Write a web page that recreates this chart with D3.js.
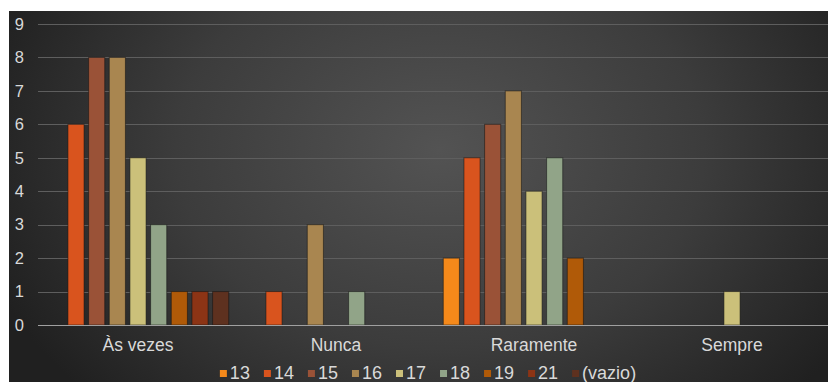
<!DOCTYPE html>
<html>
<head>
<meta charset="utf-8">
<script src="https://cdn.jsdelivr.net/npm/d3@7/dist/d3.min.js"></script>
<style>
  html, body { margin: 0; padding: 0; background: #ffffff; }
  svg { display: block; }
  text { font-family: "Liberation Sans", Arial, sans-serif; }
</style>
</head>
<body>
<svg id="chart" width="828" height="382"></svg>
<script>
const categories = ["Às vezes", "Nunca", "Raramente", "Sempre"];
const seriesNames = ["13", "14", "15", "16", "17", "18", "19", "21", "(vazio)"];
// values per series, in category order
const s13    = [0, 0, 2, 0];
const s14    = [6, 1, 5, 0];
const s15    = [8, 0, 6, 0];
const s16    = [8, 3, 7, 0];
const s17    = [5, 0, 4, 1];
const s18    = [3, 1, 5, 0];
const s19    = [1, 0, 2, 0];
const s21    = [1, 0, 0, 0];
const sVazio = [1, 0, 0, 0];
const seriesValues = [s13, s14, s15, s16, s17, s18, s19, s21, sVazio];
const yTicks = [0, 1, 2, 3, 4, 5, 6, 7, 8, 9];
const colors = ["#f5891a", "#d9541e", "#9a5237", "#a98650", "#cbc07a", "#91a488", "#b05a08", "#8c3415", "#5e311f"];

const svg = d3.select("#chart");
const W = 828, H = 382;

// background with radial gradient
const defs = svg.append("defs");
const grad = defs.append("radialGradient").attr("id", "bg")
  .attr("gradientUnits", "userSpaceOnUse")
  .attr("cx", 440).attr("cy", 150).attr("r", 480)
  .attr("gradientTransform", "translate(440,150) scale(1,0.75) translate(-440,-150)");
grad.append("stop").attr("offset", "0%").attr("stop-color", "#535353");
grad.append("stop").attr("offset", "55%").attr("stop-color", "#3c3c3c");
grad.append("stop").attr("offset", "100%").attr("stop-color", "#202020");
svg.append("rect").attr("x", 9).attr("y", 11).attr("width", W - 9).attr("height", H - 11).attr("fill", "url(#bg)");

const x0 = d3.scaleBand().domain(categories).range([39, 831]).padding(0);
const x1 = d3.scaleBand().domain(seriesNames).range([6, x0.bandwidth() - 6]).padding(0);
const y = d3.scaleLinear().domain([0, 9]).range([325, 24]);
const barW = x1.bandwidth() * 0.78;

// gridlines
svg.append("g").selectAll("line").data(yTicks.filter(d => d > 0)).join("line")
  .attr("x1", 38).attr("x2", W)
  .attr("y1", d => Math.round(y(d)) + 0.5).attr("y2", d => Math.round(y(d)) + 0.5)
  .attr("stroke", "#5e5e5e").attr("stroke-width", 1);

// y axis labels
const yAxis = d3.axisLeft(y).tickValues(yTicks).tickSize(0).tickPadding(0);
const ya = svg.append("g").attr("transform", "translate(24,0)").call(yAxis);
ya.select(".domain").remove();
ya.selectAll("text").attr("fill", "#d9d9d9").style("font-size", "16.5px")
  .style("font-family", "'Liberation Sans', Arial, sans-serif");

// bars
const groups = svg.append("g").selectAll("g").data(categories).join("g")
  .attr("transform", d => `translate(${x0(d)},0)`);
groups.selectAll("rect").data((c, ci) => seriesNames.map((s, si) => ({s, si, v: seriesValues[si][ci]})).filter(d => d.v > 0))
  .join("rect")
  .attr("x", d => x1(d.s) + (x1.bandwidth() - barW) / 2)
  .attr("y", d => y(d.v))
  .attr("width", barW)
  .attr("height", d => y(0) - y(d.v))
  .attr("fill", d => colors[d.si])
  .attr("stroke", "rgba(20,20,20,0.55)").attr("stroke-width", 1);

// x axis
const xAxis = d3.axisBottom(x0).tickSize(0).tickPadding(14);
const xa = svg.append("g").attr("transform", `translate(0,${y(0)})`).call(xAxis);
xa.select(".domain").attr("stroke", "#a0a0a0").attr("d", `M38,0.5H${W}`);
xa.selectAll("text").attr("fill", "#d9d9d9").style("font-size", "17.5px")
  .style("font-family", "'Liberation Sans', Arial, sans-serif");

// legend
const leg = svg.append("g");
const items = leg.selectAll("g").data(seriesNames).join("g");
items.append("rect").attr("width", 7).attr("height", 7).attr("y", 370)
  .attr("fill", (d, i) => colors[i]);
items.append("text").attr("x", 10).attr("y", 379).text(d => d)
  .attr("fill", "#d9d9d9").style("font-size", "18px");
const widths = [];
items.each(function(d) {
  const tw = d3.select(this).select("text").node().getComputedTextLength();
  widths.push(10 + tw);
});
const gap = 14;
const total = d3.sum(widths) + gap * (widths.length - 1);
let start = 428 - total / 2;
items.attr("transform", (d, i) => {
  const t = `translate(${start},0)`;
  start += widths[i] + gap;
  return t;
});
</script>
</body>
</html>
